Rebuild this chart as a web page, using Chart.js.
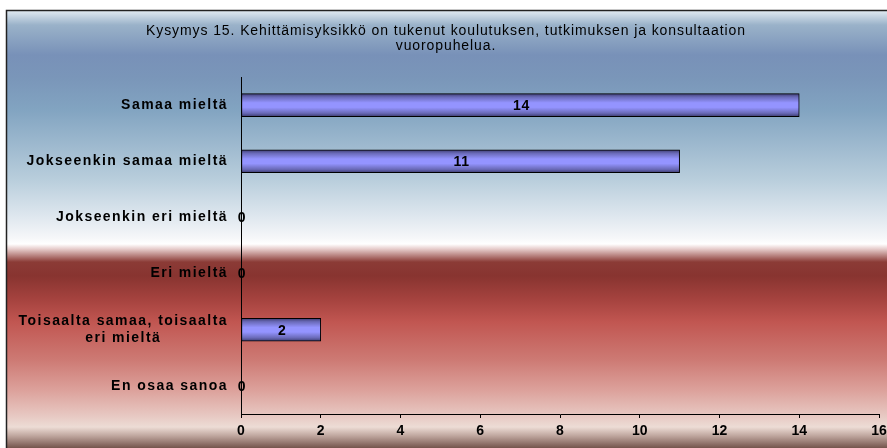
<!DOCTYPE html>
<html>
<head>
<meta charset="utf-8">
<script src="https://cdn.jsdelivr.net/npm/chart.js@4/dist/chart.umd.min.js"></script>
<style>
  html, body { margin: 0; padding: 0; background: #fff; }
  #wrap { width: 887px; height: 448px; }
</style>
</head>
<body>
<div id="wrap"><canvas id="chart" width="887" height="448"></canvas></div>
<script>
'use strict';

var titleLines = [
  'Kysymys 15. Kehittämisyksikkö on tukenut koulutuksen, tutkimuksen ja konsultaation',
  'vuoropuhelua.'
];
var categories = [
  'Samaa mieltä',
  'Jokseenkin samaa mieltä',
  'Jokseenkin eri mieltä',
  'Eri mieltä',
  ['Toisaalta samaa, toisaalta', 'eri mieltä'],
  'En osaa sanoa'
];
var answers = [14, 11, 0, 0, 2, 0];
var axisMin = 0;
var axisMax = 16;
var axisStep = 2;

var FONT = '"Liberation Sans", Arial, sans-serif';
Chart.defaults.font.family = FONT;

// frame with the blue / white / red background and the title
var backgroundPlugin = {
  id: 'background',
  beforeDraw: function(chart) {
    var ctx = chart.ctx;
    var w = chart.width, h = chart.height;
    ctx.save();
    ctx.fillStyle = '#ffffff';
    ctx.fillRect(0, 0, w, h);

    var top = 10, left = 6;
    var g = ctx.createLinearGradient(0, top, 0, h);
    var stops = [
      [11, '#dfe9f1'], [25, '#9ab2c9'], [55, '#7891b8'], [78, '#7a96b9'],
      [110, '#82a4c1'], [180, '#b9cedc'], [215, '#dde6ee'], [238, '#f6f7f9'],
      [244, '#ffffff'], [249, '#e6cccb'], [262, '#8b3b36'], [276, '#883430'],
      [300, '#a6433f'], [322, '#c15651'], [360, '#cd7a74'], [390, '#dca19b'],
      [415, '#e7c7c1'], [427, '#eddcd5'], [436, '#bea59d'], [448, '#74544c']
    ];
    stops.forEach(function(s) {
      g.addColorStop((s[0] - top) / (h - top), s[1]);
    });
    ctx.fillStyle = g;
    ctx.fillRect(left, top, w - left, h - top);

    ctx.strokeStyle = '#222';
    ctx.lineWidth = 1.5;
    ctx.beginPath();
    ctx.moveTo(left + 0.5, h);
    ctx.lineTo(left + 0.5, top + 0.5);
    ctx.lineTo(w, top + 0.5);
    ctx.stroke();

    ctx.fillStyle = '#000';
    ctx.font = '14px ' + FONT;
    ctx.letterSpacing = '0.9px';
    ctx.textAlign = 'center';
    ctx.textBaseline = 'middle';
    ctx.fillText(titleLines[0], 446, 31);
    ctx.fillText(titleLines[1], 446, 46);
    ctx.restore();
  }
};

// category names and the value labels inside the bars
var labelPlugin = {
  id: 'labels',
  afterDatasetsDraw: function(chart) {
    var ctx = chart.ctx;
    var yScale = chart.scales.y;
    var area = chart.chartArea;
    ctx.save();
    ctx.fillStyle = '#000';
    ctx.textBaseline = 'middle';

    ctx.font = 'bold 14px ' + FONT;
    ctx.letterSpacing = '1.45px';
    categories.forEach(function(label, i) {
      var y = yScale.getPixelForTick(i);
      var right = area.left - 13;
      if (Array.isArray(label)) {
        var maxW = 0;
        label.forEach(function(l) { maxW = Math.max(maxW, ctx.measureText(l).width); });
        ctx.textAlign = 'center';
        var lineH = 17;
        var y0 = y - (label.length - 1) * lineH / 2;
        label.forEach(function(l, k) {
          ctx.fillText(l, right - maxW / 2, y0 + k * lineH);
        });
      } else {
        ctx.textAlign = 'right';
        ctx.fillText(label, right, y);
      }
    });

    ctx.font = 'bold 14px ' + FONT;
    ctx.letterSpacing = '0.6px';
    ctx.textAlign = 'center';
    chart.getDatasetMeta(0).data.forEach(function(bar, i) {
      var x = (bar.x + bar.base) / 2;
      ctx.fillText(String(answers[i]), x + 1, bar.y + 1);
    });
    ctx.restore();
  }
};

function barFill(context) {
  var chart = context.chart;
  var yScale = chart.scales.y;
  if (!yScale || yScale.getPixelForTick(context.dataIndex) === undefined) {
    return '#9999ff';
  }
  var y = yScale.getPixelForTick(context.dataIndex);
  var g = chart.ctx.createLinearGradient(0, y - 11.5, 0, y + 11.5);
  g.addColorStop(0, '#3c3c70');
  g.addColorStop(0.15, '#6a6ab8');
  g.addColorStop(0.4, '#9494ff');
  g.addColorStop(0.6, '#9494ff');
  g.addColorStop(0.85, '#6a6ab8');
  g.addColorStop(1, '#3c3c70');
  return g;
}

var chart = new Chart(document.getElementById('chart'), {
  type: 'bar',
  data: {
    labels: categories,
    datasets: [{
      data: answers,
      backgroundColor: barFill,
      borderColor: '#000',
      borderWidth: 1,
      borderSkipped: false,
      barThickness: 23
    }]
  },
  options: {
    indexAxis: 'y',
    responsive: false,
    animation: false,
    devicePixelRatio: 1,
    layout: { padding: { top: 77, right: 8, left: 0, bottom: 0 } },
    plugins: {
      legend: { display: false },
      title: { display: false },
      tooltip: { enabled: false }
    },
    scales: {
      x: {
        min: axisMin,
        max: axisMax,
        ticks: {
          stepSize: axisStep,
          color: '#000',
          padding: 5,
          maxRotation: 0,
          font: { size: 14, weight: 'bold' }
        },
        grid: {
          display: true,
          drawOnChartArea: false,
          drawTicks: true,
          tickLength: 4,
          color: '#000'
        },
        border: { display: true, color: '#000', width: 1 },
        afterFit: function(scale) {
          scale.height = 34;
          scale.paddingRight = 0;
          scale.paddingLeft = 0;
        }
      },
      y: {
        ticks: { display: false },
        grid: { display: false },
        border: { display: true, color: '#000', width: 1 },
        afterFit: function(scale) { scale.width = 241; }
      }
    }
  },
  plugins: [backgroundPlugin, labelPlugin]
});
</script>
</body>
</html>
